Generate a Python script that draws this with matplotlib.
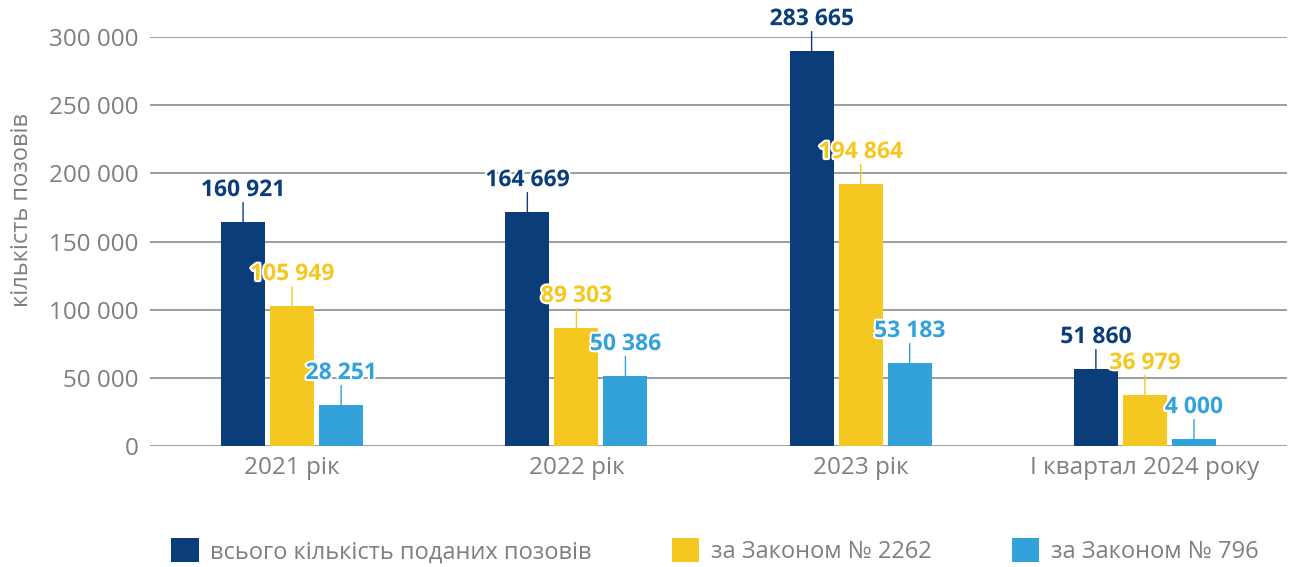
import numpy as np
import matplotlib
matplotlib.use('Agg')
import matplotlib.pyplot as plt
import matplotlib.patheffects as pe

plt.rcParams['font.family'] = ['Open Sans', 'DejaVu Sans']

# categories and series (bar heights, labels as printed)
categories = ['2021 рік', '2022 рік', '2023 рік', 'І квартал 2024 року']
series_names = ['всього кількість поданих позовів', 'за Законом № 2262', 'за Законом № 796']
total_vals = [164300, 171600, 289700, 56500]
law2262_vals = [102700, 86600, 192200, 37400]
law796_vals = [30100, 51300, 60900, 5100]
total_labels = ['160 921', '164 669', '283 665', '51 860']
law2262_labels = ['105 949', '89 303', '194 864', '36 979']
law796_labels = ['28 251', '50 386', '53 183', '4 000']
yticks = [0, 50000, 100000, 150000, 200000, 250000, 300000]
ytick_labels = ['0', '50 000', '100 000', '150 000', '200 000', '250 000', '300 000']

colors = ['#0b3d7a', '#f5c821', '#33a2da']
grey = '#7f7f7f'

fig = plt.figure(figsize=(12.93, 5.67), dpi=100)
ax = fig.add_axes([0.116, 0.2134, 0.8794, 0.7213])

x = np.arange(len(categories))
width = 0.155
offset = 0.1725
all_vals = [total_vals, law2262_vals, law796_vals]
all_labels = [total_labels, law2262_labels, law796_labels]

for i, (vals, labs, col) in enumerate(zip(all_vals, all_labels, colors)):
    xs = x + (i - 1) * offset
    ax.bar(xs, vals, width=width, color=col, zorder=3, label=series_names[i])
    for xi, v, lab in zip(xs, vals, labs):
        ax.annotate('', xy=(xi, v), xytext=(0, 14), textcoords='offset points',
                    arrowprops=dict(arrowstyle='-', color=col, lw=1.0,
                                    shrinkA=0, shrinkB=0),
                    annotation_clip=False, zorder=4)
        ax.annotate(lab, xy=(xi, v), xytext=(0, 23), textcoords='offset points',
                    ha='center', va='center', color=col, fontsize=16.5,
                    fontweight='bold', annotation_clip=False, zorder=5,
                    path_effects=[pe.withStroke(linewidth=3, foreground='white')])

ax.set_xlim(-0.5, 3.5)
ax.set_ylim(0, 300000)
ax.set_yticks(yticks)
ax.set_yticklabels(ytick_labels)
ax.set_xticks(x)
ax.set_xticklabels(categories)
ax.tick_params(axis='y', length=0, pad=8.5, labelsize=17.5, labelcolor=grey)
ax.tick_params(axis='x', length=0, pad=7, labelsize=17.5, labelcolor=grey)
ax.grid(axis='y', color='#8c8c8c', lw=1.2, zorder=0)
for s in ax.spines.values():
    s.set_visible(False)

fig.text(0.017, 0.63, 'кількість позовів', rotation=90, ha='center', va='center',
         fontsize=17, color=grey)

handles, labels = ax.get_legend_handles_labels()
fig.legend(handles, labels, loc='center', bbox_to_anchor=(0.553, 0.028), ncol=3,
           frameon=False, fontsize=17, labelcolor=grey, handlelength=1.15,
           handleheight=1.2, columnspacing=3.4, handletextpad=0.5)

fig.savefig('out.png', dpi=100)
